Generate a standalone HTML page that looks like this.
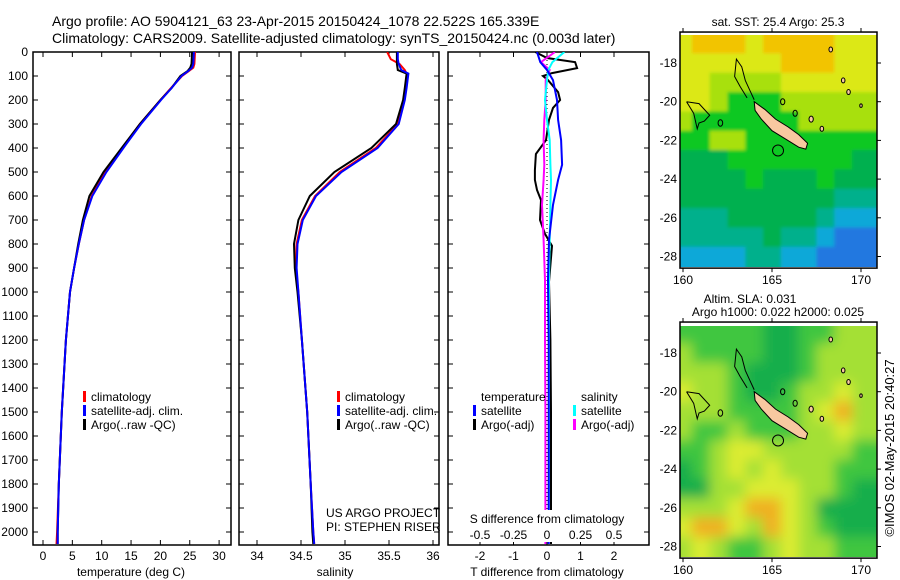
<!DOCTYPE html>
<html><head><meta charset="utf-8">
<style>
html,body{margin:0;padding:0;background:#fff;}
svg{display:block;font-family:"Liberation Sans",sans-serif;}
text{fill:#000;}
</style></head>
<body>
<svg id="fig" width="900" height="580" viewBox="0 0 900 580" xmlns="http://www.w3.org/2000/svg">
<defs>
<clipPath id="c1"><rect x="33" y="52" width="198" height="493"/></clipPath>
<clipPath id="c2"><rect x="239" y="52" width="200" height="493"/></clipPath>
<clipPath id="c3"><rect x="448" y="52" width="201" height="493"/></clipPath>
<clipPath id="cm1"><rect x="680" y="35" width="197" height="232"/></clipPath>
<clipPath id="cm2"><rect x="680" y="326" width="197" height="231"/></clipPath>
<filter id="blur2" x="-5%" y="-5%" width="110%" height="110%"><feGaussianBlur stdDeviation="6"/></filter>
<filter id="blur1"><feGaussianBlur stdDeviation="1.5"/></filter>
</defs>
<text x="52" y="26" font-size="14">Argo profile: AO 5904121_63 23-Apr-2015 20150424_1078 22.522S 165.339E</text>
<text x="52" y="43" font-size="14">Climatology: CARS2009. Satellite-adjusted climatology: synTS_20150424.nc (0.003d later)</text>
<g id="g1"></g>
<g id="g2"></g>
<g id="g3"></g>
<g id="m1"></g>
<g id="m2"></g>
<text transform="translate(894,448) rotate(-90)" font-size="13" text-anchor="middle">©IMOS 02-May-2015 20:40:27</text>
</svg>
<script>
// ---- data ----
const depthT = [0,50,65,80,100,150,200,300,400,500,600,700,800,900,1000,1200,1500,1800,2000,2050];
const tempClim = [25.9,25.8,25.6,24.8,23.7,21.8,20.0,16.5,13.5,10.6,8.3,7.0,6.1,5.3,4.6,3.9,3.2,2.7,2.4,2.3];
const tempSat  = [25.7,25.6,25.4,24.7,23.6,21.9,20.1,16.7,13.7,10.8,8.4,7.0,6.1,5.3,4.6,3.9,3.2,2.7,2.5,2.5];
const tempArgo = [25.4,25.3,25.1,24.6,23.4,21.9,20.0,16.5,13.4,10.3,7.9,6.8,6.0,5.3,4.6,3.9,3.2,2.7,2.5,2.5];
const depthS = [0,30,50,75,90,150,200,300,400,500,600,700,800,900,1000,1200,1500,1800,2000,2050];
const salClim = [35.48,35.52,35.62,35.68,35.70,35.69,35.67,35.60,35.35,34.94,34.66,34.51,34.45,34.44,34.47,34.51,34.57,34.61,34.64,34.65];
const salSat  = [35.60,35.60,35.61,35.64,35.72,35.70,35.68,35.61,35.37,34.96,34.67,34.52,34.46,34.45,34.47,34.51,34.57,34.61,34.64,34.65];
const salArgo = [35.59,35.59,35.59,35.60,35.70,35.68,35.66,35.58,35.30,34.88,34.60,34.47,34.42,34.43,34.46,34.51,34.57,34.61,34.63,34.64];
const depthD = [0,42,75,117,200,283,367,470,533,637,783,950,1200,1500,1800,2050];
const dTsat  = [-0.30,-0.20,0.00,0.18,0.30,0.33,0.42,0.45,0.33,0.18,0.06,0.03,0.05,0.05,0.05,0.05];
const dTargoDepth = [0,25,42,67,88,100,117,167,200,233,283,367,425,492,533,575,617,700,758,808,958,1200,1500,2050];
const dTargo = [-0.35,0.0,0.84,0.9,0.15,-0.12,0.03,0.33,0.39,0.18,0.06,-0.03,-0.33,-0.36,-0.36,-0.30,-0.18,-0.21,-0.06,0.15,0.06,0.10,0.12,0.12];
const dSsat  = [0.13,0.04,0.01,0.0,-0.015,0.0,0.02,0.025,0.03,0.025,0.02,0.015,0.015,0.015,0.015,0.012];
const dSargo = [0.06,-0.045,0.02,-0.01,-0.01,-0.02,-0.025,-0.02,-0.025,-0.037,-0.025,-0.015,-0.015,-0.012,-0.012,-0.012];
const depthTicks = [0,100,200,300,400,500,600,700,800,900,1000,1100,1200,1300,1400,1500,1600,1700,1800,1900,2000];
const tTicks = [0,5,10,15,20,25,30];
const sTicks = [34,34.5,35,35.5,36];
const dTTicks = [-2,-1,0,1,2];
const dSTicks = [-0.5,-0.25,0,0.25,0.5];
const dSTickLabels = ['-0.5','-0.25','0','0.25','0.5'];
const lonTicks = [160,165,170];
const latTicks = [-18,-20,-22,-24,-26,-28];
// map colour grids (rows lat -17..-28, cols lon 160..170)
const sstGrid = ["YOOOYOOOOYY","YYYYYYOOOYY","YYLLLLYYYYY","YYLGGGLLLLL","LGGGGGGLLLL","GGLLGGGGGGG","gggGGGGGGGg","ggggGgggGgg","gggggggggTT","TTTgggggTCC","TTTTTgTTCBB","CCCCTTCCBBB"];
const slaGrid = ["GGGGGggGGLL","LGGGGggGLLL","LLLGgggGLLL","YLLGggGLLYL","LLLGGGGLYOL","LGGLGGGLLYL","GGLYYLLLLLG","gGLYLYLLLGG","ggLLYYYLLGg","LLLYOOYLggg","YOOYLOYLGgg","LYLGGLYLLGG"];
const palette = {O:'#f2c400',Y:'#dce818',L:'#a8e010',G:'#10c820',g:'#00b050',T:'#00b08c',C:'#10a8d8',B:'#2078e0'};
const palette2 = {O:'#f0b020',Y:'#dcec30',L:'#a4e034',G:'#40c640',g:'#18ae4c',T:'#00b08c',C:'#10a8d8',B:'#2078e0'};

// ---- helpers ----
const NS='http://www.w3.org/2000/svg';
function mk(parent,tag,attrs,txt){const e=document.createElementNS(NS,tag);for(const k in attrs)e.setAttribute(k,attrs[k]);if(txt!==undefined)e.textContent=txt;parent.appendChild(e);return e;}
const yD = d => 52 + d*0.24;
const xT = v => 43 + v*5.87;
const xS = v => 257 + (v-34)*88;
const xDT = v => 547 + v*33.5;
const xDS = v => 547 + v*134;
const PB = 545;

function frame(g,x0,x1,name){
  const r=mk(g,'rect',{x:x0,y:52,width:x1-x0,height:PB-52,fill:'none',stroke:'#000','stroke-width':1.5});
  
  
  depthTicks.forEach(d=>{
    mk(g,'line',{x1:x0,x2:x0+5,y1:yD(d),y2:yD(d),stroke:'#000'});
    mk(g,'line',{x1:x1,x2:x1-5,y1:yD(d),y2:yD(d),stroke:'#000'});
  });
}
function xticks(g,ticks,fx,labels,ly){
  ticks.forEach((t,i)=>{
    const x=fx(t);
    mk(g,'line',{x1:x,x2:x,y1:52,y2:57,stroke:'#000'});
    mk(g,'line',{x1:x,x2:x,y1:PB,y2:PB-5,stroke:'#000'});
    if(labels){const tx=mk(g,'text',{x:x,y:ly,'font-size':12,'text-anchor':'middle'},labels[i]);
      
      }
  });
}
function line(g,xs,ds,fx,color,name,clip,w){
  const pts=xs.map((v,i)=>fx(v).toFixed(1)+','+yD(ds[i]).toFixed(1)).join(' ');
  const p=mk(g,'polyline',{points:pts,fill:'none',stroke:color,'stroke-width':w||2,'clip-path':'url(#'+clip+')'});
  
  
}
function legend(g,x,y,color,label){
  mk(g,'rect',{x:x,y:y-6,width:3,height:11,fill:color});
  const t=mk(g,'text',{x:x+8,y:y+4,'font-size':12},label);
  
  
}

const g1=document.getElementById('g1');
depthTicks.forEach(d=>{
  const t=mk(g1,'text',{x:28,y:yD(d)+4,'font-size':12,'text-anchor':'end'},String(d));
  
  
});
frame(g1,33,231,'temperature');
xticks(g1,tTicks,xT,tTicks.map(String),560);
mk(g1,'text',{x:131,y:576,'font-size':12,'text-anchor':'middle',},'temperature (deg C)');
line(g1,tempClim,depthT,xT,'#f00','temp-climatology-line','c1');
line(g1,tempArgo,depthT,xT,'#000','temp-argo-line','c1');
line(g1,tempSat,depthT,xT,'#00f','temp-satellite-line','c1');
legend(g1,83,397,'#f00','climatology');
legend(g1,83,411,'#00f','satellite-adj. clim.');
legend(g1,83,425,'#000','Argo(..raw -QC)');

const g2=document.getElementById('g2');
frame(g2,239,439,'salinity');
xticks(g2,sTicks,xS,['34','34.5','35','35.5','36'],560);
mk(g2,'text',{x:335,y:576,'font-size':12,'text-anchor':'middle',},'salinity');
line(g2,salClim,depthS,xS,'#f00','sal-climatology-line','c2');
line(g2,salArgo,depthS,xS,'#000','sal-argo-line','c2');
line(g2,salSat,depthS,xS,'#00f','sal-satellite-line','c2');
legend(g2,337,397,'#f00','climatology');
legend(g2,337,411,'#00f','satellite-adj. clim.');
legend(g2,337,425,'#000','Argo(..raw -QC)');
mk(g2,'text',{x:326,y:517,'font-size':12,},'US ARGO PROJECT');
mk(g2,'text',{x:326,y:531,'font-size':12,},'PI: STEPHEN RISER');

const g3=document.getElementById('g3');
frame(g3,448,649,'difference');
xticks(g3,dTTicks,xDT,dTTicks.map(String),560);
mk(g3,'text',{x:547,y:576,'font-size':12,'text-anchor':'middle',},'T difference from climatology');
mk(g3,'line',{x1:xDT(0),x2:xDT(0),y1:52,y2:PB,stroke:'#000','stroke-dasharray':'1,3','stroke-width':1});
line(g3,dTargo,dTargoDepth,xDT,'#000','t-diff-argo-line','c3');
line(g3,dSargo,depthD,xDS,'#f0f','s-diff-argo-line','c3');
line(g3,dSsat,depthD,xDS,'#0ff','s-diff-satellite-line','c3');
line(g3,dTsat,depthD,xDT,'#00f','t-diff-satellite-line','c3');
mk(g3,'text',{x:481,y:401,'font-size':12,},'temperature');
legend(g3,473,411,'#00f','satellite');
legend(g3,473,425,'#000','Argo(-adj)');
mk(g3,'text',{x:581,y:401,'font-size':12,},'salinity');
legend(g3,573,411,'#0ff','satellite');
legend(g3,573,425,'#f0f','Argo(-adj)');
mk(g3,'rect',{x:466,y:510,width:162,height:32,fill:'#fff'});
mk(g3,'text',{x:547,y:523,'font-size':12,'text-anchor':'middle',},'S difference from climatology');
dSTicks.forEach((t,i)=>{
  const tx=mk(g3,'text',{x:xDS(t),y:539,'font-size':12,'text-anchor':'middle'},dSTickLabels[i]);
  
  
});

function drawMap(id,grid,pal,top,clip,blur,titles){
  const g=document.getElementById(id);
  const mx = lon => 683 + (lon-160)*17.8;
  const my = lat => top + (-18-lat)*19.35;
  const bx=680, bw=197, by=my(-16.4), bh=my(-28.6)-my(-16.4);
  const cg=mk(g,'g',{'clip-path':'url(#'+clip+')'});
  const cells=mk(cg,'g',blur?{filter:'url(#'+blur+')'}:{});
  mk(cells,'rect',{x:bx-20,y:by-20,width:bw+40,height:bh+40,fill:pal[grid[0][0]]});
  grid.forEach((row,r)=>{
    const lat=-17-r;
    [...row].forEach((c,k)=>{
      const lon=160+k;
      let l=lon-0.5,rr=lon+0.5,t=lat+0.5,b=lat-0.5;
      if(k===0)l-=1.5; if(k===row.length-1)rr+=1.5;
      if(r===0)t+=1.5; if(r===grid.length-1)b-=1.5;
      mk(cells,'rect',{x:mx(l),y:my(t),width:mx(rr)-mx(l)+0.5,height:my(b)-my(t)+0.5,fill:pal[c]});
    });
  });
  const isl=[[164.0,-20.0],[164.6,-20.4],[165.2,-20.9],[165.9,-21.3],[166.5,-21.7],[167.0,-22.15],[166.9,-22.45],[166.5,-22.35],[165.8,-21.95],[165.0,-21.5],[164.4,-20.9],[164.05,-20.45]];
  const ip=mk(cg,'polygon',{points:isl.map(p=>mx(p[0])+','+my(p[1])).join(' '),fill:'#f8c8a0',stroke:'#000','stroke-width':1});
  
  
  const reef=[[163.6,-19.8],[163.2,-19.2],[162.9,-18.7],[163.0,-17.8],[163.3,-18.2],[163.5,-18.9],[163.8,-19.5],[164.0,-19.9]];
  mk(cg,'polyline',{points:reef.map(p=>mx(p[0])+','+my(p[1])).join(' '),fill:'none',stroke:'#000','stroke-width':1});
  const reef2=[[160.2,-20.0],[160.9,-20.1],[161.5,-20.7],[161.2,-21.0],[160.9,-21.1],[160.8,-21.4],[160.6,-20.6],[160.2,-20.0]];
  mk(cg,'polyline',{points:reef2.map(p=>mx(p[0])+','+my(p[1])).join(' '),fill:'none',stroke:'#000','stroke-width':1});
  [[162.1,-21.1,0.13,false],[165.6,-20.0,0.12,false],[166.3,-20.6,0.12,false],[167.2,-20.9,0.12,true],[167.8,-21.4,0.1,true],[168.3,-17.3,0.1,true],[169.0,-18.9,0.1,true],[169.3,-19.5,0.1,true],[170.0,-20.2,0.07,true]].forEach(p=>{
    mk(cg,'ellipse',{cx:mx(p[0]),cy:my(p[1]),rx:p[2]*17.8,ry:p[2]*25,fill:p[3]?'#f8c8a0':'none',stroke:'#000','stroke-width':1});
  });
  const pc=mk(cg,'circle',{cx:mx(165.339),cy:my(-22.522),r:5.5,fill:'none',stroke:'#000','stroke-width':1});
  
  
  mk(g,'rect',{x:bx,y:by,width:bw,height:bh,fill:'none',stroke:'#000','stroke-width':1.5});
  lonTicks.forEach(l=>{
    mk(g,'line',{x1:mx(l),x2:mx(l),y1:by+bh,y2:by+bh+4,stroke:'#000'});
    mk(g,'line',{x1:mx(l),x2:mx(l),y1:by,y2:by-4,stroke:'#000'});
    const t=mk(g,'text',{x:mx(l),y:by+bh+16,'font-size':12,'text-anchor':'middle'},String(l));
    
    
  });
  latTicks.forEach(l=>{
    mk(g,'line',{x1:bx+bw,x2:bx+bw+4,y1:my(l),y2:my(l),stroke:'#000'});
    const t=mk(g,'text',{x:677,y:my(l)+4,'font-size':12,'text-anchor':'end'},String(l));
    
    
  });
  titles.forEach(tt=>{
    const t=mk(g,'text',{x:tt[1],y:tt[2],'font-size':12,'text-anchor':'middle'},tt[0]);
    
    
  });
}
drawMap('m1',sstGrid,palette,63,'cm1','blur1',[['sat. SST: 25.4  Argo: 25.3',778,26]]);
drawMap('m2',slaGrid,palette2,353,'cm2','blur2',[['Altim. SLA: 0.031',750,303],['Argo h1000: 0.022 h2000: 0.025',778,316]]);
</script>
</body></html>
